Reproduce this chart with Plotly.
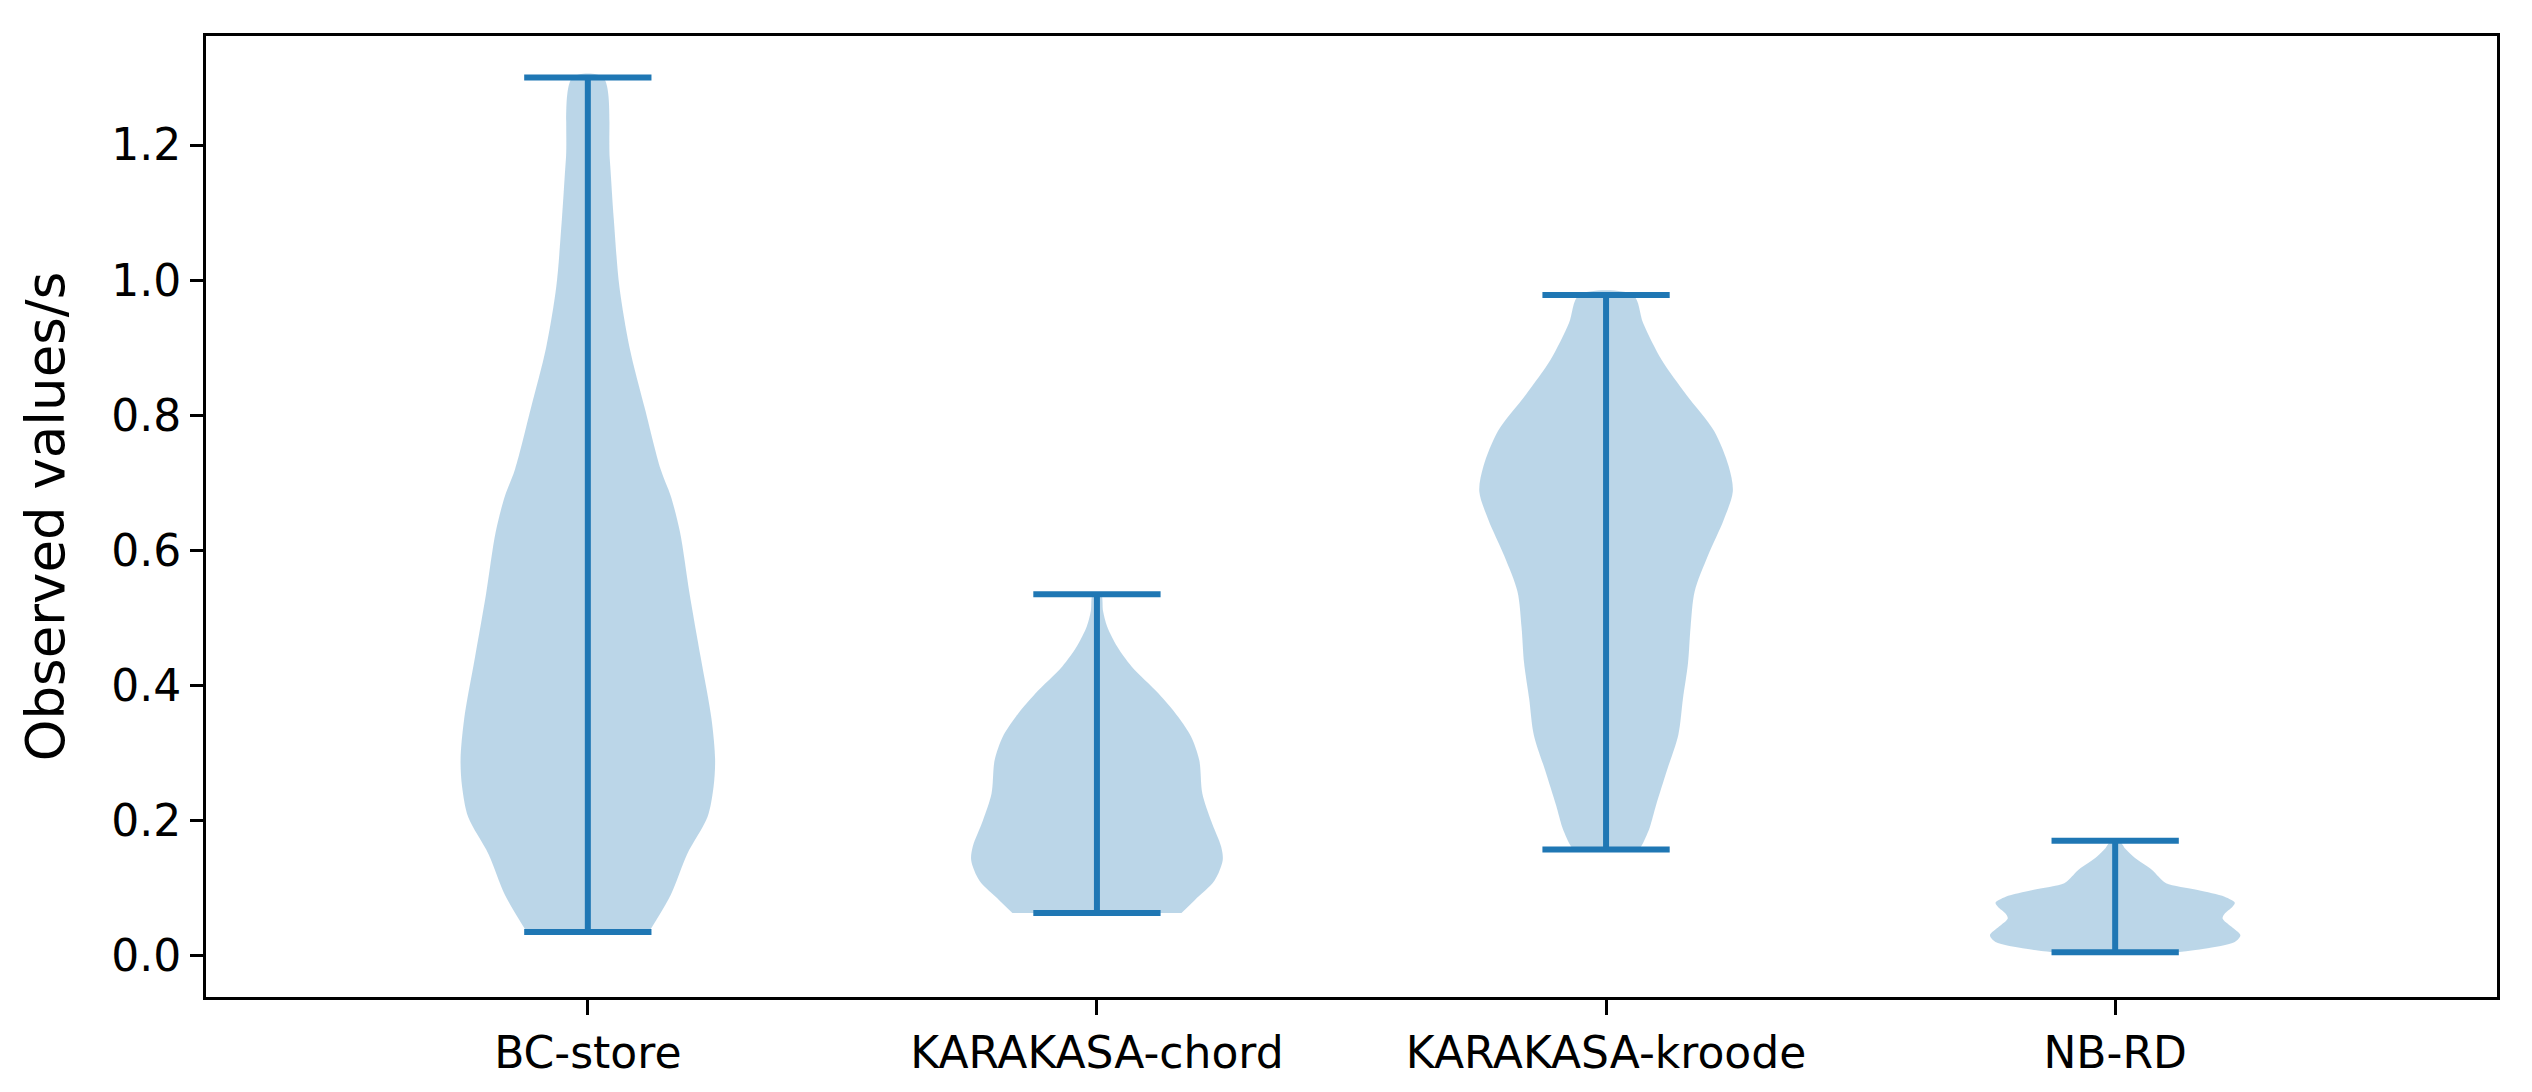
import plotly.graph_objects as go

# groups and their positions on the x axis
groups = ["BC-store", "KARAKASA-chord", "KARAKASA-kroode", "NB-RD"]
positions = [1, 2, 3, 4]

# extrema (caps), in seconds
mins = [0.035, 0.063, 0.157, 0.005]
maxs = [1.30, 0.535, 0.978, 0.170]

# violin outlines: value levels and half-widths (x units, max 0.25)
bc_y = [0.035, 0.09, 0.15, 0.205, 0.25, 0.29, 0.35, 0.44, 0.535, 0.627, 0.68, 0.72,
        0.81, 0.90, 0.99, 1.09, 1.18, 1.30]
bc_w = [0.12, 0.163, 0.195, 0.235, 0.247, 0.25, 0.243, 0.222, 0.2, 0.181, 0.163, 0.143,
        0.112, 0.082, 0.062, 0.051, 0.043, 0.030]

chord_y = [0.063, 0.082, 0.111, 0.141, 0.161, 0.20, 0.24, 0.289, 0.324, 0.354, 0.388,
           0.428, 0.457, 0.487, 0.51, 0.535]
chord_w = [0.166, 0.192, 0.231, 0.247, 0.244, 0.224, 0.207, 0.201, 0.185, 0.159, 0.121,
           0.068, 0.04, 0.02, 0.012, 0.008]

kroode_y = [0.157, 0.167, 0.19, 0.222, 0.275, 0.327, 0.38, 0.433, 0.486, 0.539, 0.592,
            0.645, 0.687, 0.724, 0.777, 0.83, 0.882, 0.936, 0.978]
kroode_w = [0.065, 0.073, 0.086, 0.098, 0.12, 0.142, 0.151, 0.161, 0.166, 0.174, 0.200,
            0.231, 0.249, 0.241, 0.212, 0.158, 0.109, 0.073, 0.053]

nbrd_y = [0.005, 0.01, 0.02, 0.03, 0.043, 0.055, 0.062, 0.072, 0.078, 0.087, 0.097,
          0.107, 0.117, 0.127, 0.137, 0.147, 0.158, 0.170]
nbrd_w = [0.122, 0.175, 0.235, 0.246, 0.228, 0.211, 0.215, 0.23, 0.235, 0.215, 0.162,
          0.10, 0.085, 0.072, 0.053, 0.035, 0.02, 0.008]

y_ticks = [0.0, 0.2, 0.4, 0.6, 0.8, 1.0, 1.2]

profiles = [(bc_y, bc_w), (chord_y, chord_w), (kroode_y, kroode_w), (nbrd_y, nbrd_w)]

BLUE = "#1f77b4"
BODY = "rgba(31,119,180,0.3)"
CAP_HALF = 0.125

fig = go.Figure()

for pos, (ys, ws) in zip(positions, profiles):
    # each body is one closed outline: right side going up, left side coming down
    xs = [pos + w for w in ws] + [pos - w for w in reversed(ws)]
    yy = list(ys) + list(reversed(ys))
    fig.add_trace(
        go.Scatter(
            x=xs,
            y=yy,
            mode="lines",
            fill="toself",
            fillcolor=BODY,
            line=dict(width=0, shape="spline", smoothing=0.85),
            hoverinfo="skip",
            showlegend=False,
        )
    )

for pos, lo, hi in zip(positions, mins, maxs):
    # vertical bar + min/max caps
    fig.add_trace(
        go.Scatter(
            x=[pos, pos, None, pos - CAP_HALF, pos + CAP_HALF, None, pos - CAP_HALF, pos + CAP_HALF],
            y=[lo, hi, None, lo, lo, None, hi, hi],
            mode="lines",
            line=dict(color=BLUE, width=6),
            hoverinfo="skip",
            showlegend=False,
        )
    )

fig.update_xaxes(
    range=[0.25, 4.75],
    tickvals=positions,
    ticktext=groups,
    showgrid=False,
    zeroline=False,
    showline=True,
    mirror=True,
    linecolor="black",
    linewidth=3,
    ticks="outside",
    ticklen=15,
    tickwidth=3,
    tickcolor="black",
)
fig.update_yaxes(
    range=[-0.0614, 1.3614],
    tickvals=y_ticks,
    tickformat=".1f",
    showgrid=False,
    zeroline=False,
    showline=True,
    mirror=True,
    linecolor="black",
    linewidth=3,
    ticks="outside",
    ticklen=13,
    tickwidth=3,
    tickcolor="black",
    title=dict(text="Observed values/s", standoff=30),
)

# the page body keeps its default 8px margin, so the figure is 8px smaller
fig.update_layout(
    width=2524,
    height=1084,
    margin=dict(l=198, r=35, t=28, b=95),
    paper_bgcolor="white",
    plot_bgcolor="white",
    font=dict(family="DejaVu Sans", size=44, color="black"),
    showlegend=False,
)

fig.write_html("out.html")
